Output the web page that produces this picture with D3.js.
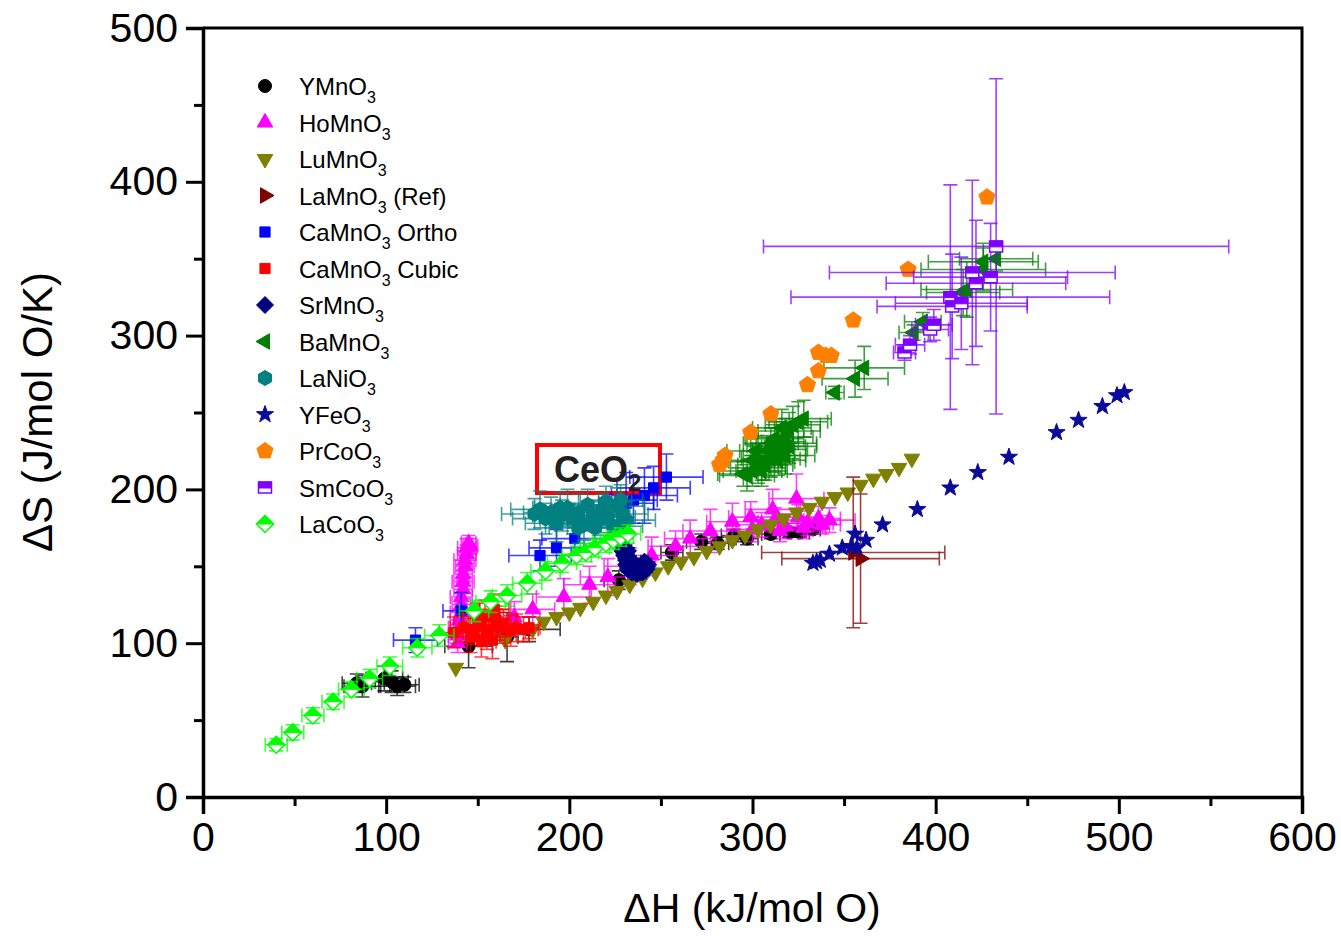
<!DOCTYPE html>
<html>
<head>
<meta charset="utf-8">
<script src="https://cdn.jsdelivr.net/npm/d3@7"></script>
<style>
  body { margin: 0; background: #fff; }
  text { font-family: "Liberation Sans", Arial, sans-serif; }
</style>
</head>
<body>
<svg width="1341" height="936"></svg>
<script>
// Data =======================================================================
// each point: [dH, dS, dH error, dS error]

const xTicks = [0, 100, 200, 300, 400, 500, 600];
const yTicks = [0, 100, 200, 300, 400, 500];

const seriesNames = ["YMnO3", "HoMnO3", "LuMnO3", "LaMnO3 (Ref)", "CaMnO3 Ortho",
  "CaMnO3 Cubic", "SrMnO3", "BaMnO3", "LaNiO3", "YFeO3", "PrCoO3", "SmCoO3", "LaCoO3"];

const yMnO3 = [[84,74,8,6],[87,72,10,7],[99,77,10,8],[103,75,9,7],[106,72,10,6],[110,73,8,5],
  [145,98,13,14],[166,104,6,16],[178,109,17,8],[227,141,8,6],[256,159,6,5],[272,166,8,5],
  [281,165,6,4],[290,170,7,4],[297,168,6,4],[310,171,5,3],[320,172,5,3],[326,172,5,3],[333,174,4,3]];

const hoMnO3 = [[139,100,5,6],[139,105,5,7],[140,110,6,6],[140,115,5,7],[141,120,6,6],[141,125,5,8],
  [141,130,6,7],[142,135,5,6],[142,140,6,7],[142,145,5,6],[143,150,5,7],[143,154,6,6],[144,158,5,6],
  [144,162,5,6],[145,165,4,5],[146,163,4,5],
  [160,112,12,10],[170,117,14,10],[180,122,12,10],[197,130,15,12],[211,138,14,12],[221,143,15,12],
  [233,150,14,12],[245,157,14,12],[258,163,15,10],[266,168,14,12],[277,173,15,14],[289,179,14,12],
  [299,182,12,10],[311,187,15,13],[324,194,15,16],[305,177,14,8],[312,180,13,8],[318,176,15,8],
  [325,182,12,8],[330,178,14,8],[336,181,12,8],[342,180,14,8],[338,177,10,6],[328,175,12,7],
  [300,174,14,8],[315,173,14,7]];

const luMnO3 = [[138,84,0,0],[165,102,0,0],[180,109,0,0],[186,114,0,0],[193,117,0,0],[200,120,0,0],
  [206,123,0,0],[213,127,0,0],[220,131,0,0],[226,134,0,0],[233,138,0,0],[240,142,0,0],[247,146,0,0],
  [254,150,0,0],[261,153,0,0],[268,156,0,0],[275,160,0,0],[282,163,0,0],[289,167,0,0],[296,170,0,0],
  [303,174,0,0],[310,177,0,0],[317,181,0,0],[324,185,0,0],[331,188,0,0],[338,192,0,0],[345,195,0,0],
  [352,198,0,0],[359,203,0,0],[366,207,0,0],[373,210,0,0],[380,214,0,0],[387,220,0,0]];

const laMnO3 = [[355,159,50,49],[359,155,43,42]];

const caMnO3Ortho = [[116,102,12,8],[141,121,10,12],[184,157,17,10],[193,162,15,12],[203,168,18,12],
  [231,191,15,20],[235,193,13,15],[241,196,18,18],[246,201,20,14],[253,208,20,15]];

const caMnO3Cubic = [[137,107,8,10],[142,110,7,9],[146,104,8,10],[148,108,7,9],[150,116,8,10],
  [152,112,7,9],[152,101,8,10],[154,118,8,10],[155,105,7,9],[156,109,8,10],[158,102,7,12],
  [159,122,8,10],[160,115,7,9],[162,110,8,10],[164,113,7,9],[168,108,8,10],[171,110,7,9],
  [175,109,8,8],[178,110,6,7]];

const srMnO3 = [[226,175,2,2],[227,172,2,2],[228,169,2,2],[228,166,2,2],[229,163,2,2],[229,160,2,2],
  [230,157,2,2],[231,154,2,2],[231,151,2,2],[232,148,2,2],[234,146,2,2],[237,145,2,2],[240,146,2,2],
  [242,148,2,2],[243,151,2,2],[241,153,2,2],[238,150,2,2],[235,150,2,2],[233,155,2,2],[232,160,2,2]];

const baMnO3 = [[295,210,14,8],[297,209,15,10],[300,212,16,10],[303,214,15,10],[305,218,18,12],
  [307,216,15,10],[310,220,16,12],[312,222,17,11],[308,225,15,10],[313,228,16,12],[315,226,15,10],
  [317,230,18,12],[312,233,16,11],[318,234,15,12],[320,238,17,12],[316,240,16,12],[322,242,15,12],
  [325,244,16,13],[328,246,15,12],[305,212,14,10],[310,230,15,10],[302,225,16,10],[320,228,15,11],
  [314,219,15,10],[318,222,16,12],[300,219,14,10],
  [345,263,5,4],[356,272,18,12],[361,279,22,14],[388,302,8,5],[393,309,10,6],[415,328,20,15],
  [417,330,25,18],[426,343,34,14],[426,348,30,12],[433,350,20,8]];

const laNiO3 = [[181,184,18,10],[184,187,16,12],[187,181,18,10],[190,185,15,10],[193,178,17,12],
  [196,183,16,10],[199,188,18,12],[202,181,15,10],[205,185,17,12],[208,177,16,10],[210,190,15,10],
  [213,183,14,10],[216,180,16,10],[218,187,15,10],[221,182,15,10],[224,176,16,10],[226,189,15,12],
  [229,184,14,12],[231,180,16,12],[214,175,15,10],[205,175,16,10],[195,188,15,10],[220,192,14,10],
  [228,193,12,10]];

const yFeO3 = [[333,152,0,0],[335,153,0,0],[337,154,0,0],[342,158,0,0],[349,162,0,0],[354,163,0,0],
  [356,171,0,0],[357,162,0,0],[362,167,0,0],[371,177,0,0],[390,187,0,0],[408,201,0,0],[423,211,0,0],
  [440,221,0,0],[466,237,0,0],[478,245,0,0],[491,254,0,0],[499,261,0,0],[503,263,0,0]];

const prCoO3 = [[282,216,0,0],[284,219,0,0],[285,222,0,0],[299,237,0,0],[310,249,0,0],[330,268,0,0],
  [336,277,0,0],[336,289,0,0],[340,287,0,0],[343,287,0,0],[355,310,0,0],[385,343,0,0],[428,390,0,0]];

const smCoO3 = [[383,289,6,5],[386,294,8,6],[397,304,10,8],[399,307,10,10],[408,325,87,73],
  [409,319,41,34],[414,321,36,30],[420,341,78,60],[422,334,49,41],[430,338,42,35],[433,358,127,109]];

const laCoO3 = [[40,34,6,4],[49,42,6,5],[60,53,6,5],[71,62,6,5],[81,70,7,5],[91,77,7,6],[102,85,7,6],
  [117,97,8,6],[129,105,8,7],[148,121,8,7],[157,127,8,7],[166,131,8,7],[177,139,8,7],[187,147,8,6],
  [196,152,8,6],[204,157,8,6],[209,159,7,6],[214,162,8,6],[220,165,7,6],[224,167,7,6],[228,169,7,6],
  [232,171,7,6]];

// Styles =====================================================================

const seriesData = [yMnO3, hoMnO3, luMnO3, laMnO3, caMnO3Ortho, caMnO3Cubic, srMnO3,
  baMnO3, laNiO3, yFeO3, prCoO3, smCoO3, laCoO3];
const colors = ["#000000", "#ff00ff", "#808000", "#800000", "#0000ff", "#ff0000", "#000080",
  "#008000", "#008080", "#0a0a9c", "#ff8000", "#8000ff", "#00ff00"];
const shapes = ["circle", "up", "down", "right", "square", "square", "diamond",
  "left", "hexagon", "star", "pentagon", "halfSquare", "halfDiamond"];

const svg = d3.select("svg");
const x = d3.scaleLinear().domain([0, 600]).range([203, 1302]);
const y = d3.scaleLinear().domain([0, 500]).range([797, 28]);

// Marker paths ===============================================================

function poly(n, R, rot) {
  return d3.range(n).map(i => {
    const a = rot + i * 2 * Math.PI / n;
    return [R * Math.cos(a), R * Math.sin(a)];
  });
}
const toPath = pts => "M" + pts.map(p => p[0].toFixed(2) + "," + p[1].toFixed(2)).join("L") + "Z";

function markerPath(type) {
  switch (type) {
    case "circle": return d3.symbol(d3.symbolCircle, Math.PI * 6.5 * 6.5)();
    case "up": return toPath(poly(3, 9, -Math.PI / 2));
    case "down": return toPath(poly(3, 9, Math.PI / 2));
    case "right": return toPath(poly(3, 9, 0));
    case "left": return toPath(poly(3, 9, Math.PI));
    case "square": return toPath(poly(4, 7.2, Math.PI / 4));
    case "diamond": return toPath(poly(4, 8.5, -Math.PI / 2));
    case "hexagon": return toPath(poly(6, 7.5, -Math.PI / 2));
    case "pentagon": return toPath(poly(5, 8.5, -Math.PI / 2));
    case "star": {
      const pts = d3.range(10).map(i => {
        const r = i % 2 ? 3.6 : 9, a = -Math.PI / 2 + i * Math.PI / 5;
        return [r * Math.cos(a), r * Math.sin(a)];
      });
      return toPath(pts);
    }
    case "halfSquare": return toPath([[-6.5, -5.5], [6.5, -5.5], [6.5, 5.5], [-6.5, 5.5]]);
    case "halfDiamond": return toPath(poly(4, 8.5, -Math.PI / 2));
  }
}
function halfPath(type) {
  if (type === "halfSquare") return toPath([[-6.5, -5.5], [6.5, -5.5], [6.5, 0.5], [-6.5, 0.5]]);
  if (type === "halfDiamond") return toPath([[0, -8.5], [8.5, 0], [-8.5, 0]]);
  return null;
}

function drawMarker(g, type, color) {
  const half = halfPath(type);
  if (half) {
    g.append("path").attr("d", markerPath(type)).attr("fill", "#fff")
      .attr("stroke", color).attr("stroke-width", 1.5);
    g.append("path").attr("d", half).attr("fill", color).attr("stroke", color).attr("stroke-width", 1);
  } else {
    g.append("path").attr("d", markerPath(type)).attr("fill", color)
      .attr("stroke", color).attr("stroke-width", 1);
  }
}

// CeO2 box (behind data) =====================================================

svg.append("rect")
  .attr("x", 537).attr("y", 445).attr("width", 123).attr("height", 48)
  .attr("fill", "none").attr("stroke", "#ff0000").attr("stroke-width", 4);

// Points & error bars ========================================================

const cap = 7;
seriesData.forEach((data, si) => {
  const color = colors[si];
  const g = svg.append("g").attr("class", "series");
  const eb = g.append("g").attr("stroke", color).attr("stroke-width", 1.6)
    .attr("stroke-opacity", 0.75).attr("fill", "none");
  data.forEach(d => {
    const cx = x(d[0]), cy = y(d[1]);
    if (d[2] > 0) {
      const x0 = x(d[0] - d[2]), x1 = x(d[0] + d[2]);
      eb.append("path").attr("d",
        `M${x0},${cy}H${x1}M${x0},${cy - cap}V${cy + cap}M${x1},${cy - cap}V${cy + cap}`);
    }
    if (d[3] > 0) {
      const y0 = y(d[1] - d[3]), y1 = y(d[1] + d[3]);
      eb.append("path").attr("d",
        `M${cx},${y0}V${y1}M${cx - cap},${y0}H${cx + cap}M${cx - cap},${y1}H${cx + cap}`);
    }
  });
  data.forEach(d => {
    const m = g.append("g").attr("transform", `translate(${x(d[0])},${y(d[1])})`);
    drawMarker(m, shapes[si], color);
  });
});

// CeO2 label =================================================================

const ceo = svg.append("text").attr("x", 554).attr("y", 482)
  .attr("font-size", 36).attr("font-weight", "bold").attr("fill", "#231f20");
ceo.append("tspan").text("CeO");
ceo.append("tspan").attr("font-size", 24).attr("dy", 9).text("2");

// Axes =======================================================================

const tickFont = 41;
svg.append("g").attr("transform", "translate(0,797)")
  .call(d3.axisBottom(x).tickValues(xTicks).tickSize(17).tickPadding(8));
svg.append("g").attr("transform", "translate(0,797)")
  .call(d3.axisBottom(x).tickValues(d3.range(50, 600, 100)).tickSize(9).tickFormat(""))
  .call(g => g.select(".domain").remove());
svg.append("g").attr("transform", "translate(203,0)")
  .call(d3.axisLeft(y).tickValues(yTicks).tickSize(17).tickPadding(8));
svg.append("g").attr("transform", "translate(203,0)")
  .call(d3.axisLeft(y).tickValues(d3.range(50, 500, 100)).tickSize(9).tickFormat(""))
  .call(g => g.select(".domain").remove());

svg.selectAll(".tick line").attr("stroke", "#000").attr("stroke-width", 3);
svg.selectAll(".domain").attr("stroke", "#000").attr("stroke-width", 3.5);
svg.selectAll(".tick text").attr("font-size", tickFont).attr("fill", "#000")
  .attr("font-family", "'Liberation Sans', Arial, sans-serif");

// frame top & right
svg.append("path").attr("d", "M203,28H1302V797")
  .attr("fill", "none").attr("stroke", "#000").attr("stroke-width", 3);

svg.append("text").attr("x", 752).attr("y", 922).attr("text-anchor", "middle")
  .attr("font-size", 41).text("ΔH (kJ/mol O)");
svg.append("text").attr("transform", "translate(52,412) rotate(-90)")
  .attr("text-anchor", "middle").attr("font-size", 42).text("ΔS (J/mol O/K)");

// Legend =====================================================================

const legendRows = [["YMnO", "3", ""], ["HoMnO", "3", ""], ["LuMnO", "3", ""], ["LaMnO", "3", " (Ref)"],
  ["CaMnO", "3", " Ortho"], ["CaMnO", "3", " Cubic"], ["SrMnO", "3", ""], ["BaMnO", "3", ""],
  ["LaNiO", "3", ""], ["YFeO", "3", ""], ["PrCoO", "3", ""], ["SmCoO", "3", ""], ["LaCoO", "3", ""]];

legendRows.forEach((parts, i) => {
  const cy = 86 + i * 36.5;
  const m = svg.append("g").attr("transform", `translate(265,${cy})`);
  drawMarker(m, shapes[i], colors[i]);
  const t = svg.append("text").attr("x", 299).attr("y", cy + 9).attr("font-size", 24).attr("fill", "#000");
  t.append("tspan").text(parts[0]);
  t.append("tspan").attr("font-size", 16).attr("dy", 8).text(parts[1]);
  if (parts[2]) t.append("tspan").attr("dy", -8).text(parts[2]);
});
</script>
</body>
</html>
